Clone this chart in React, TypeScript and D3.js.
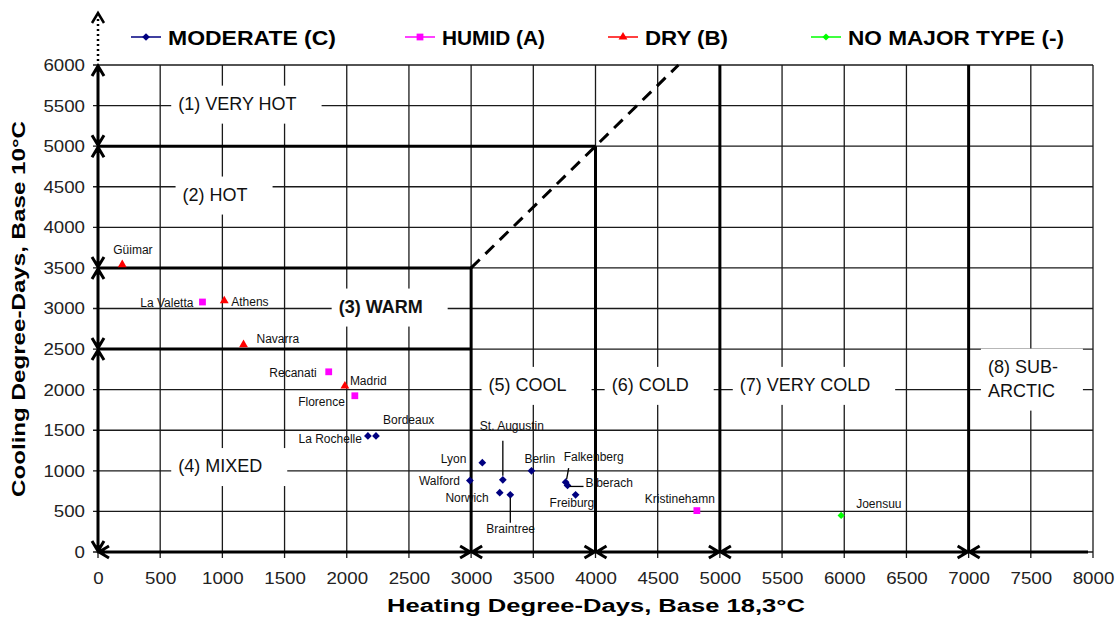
import React, { useRef, useEffect } from 'react';
import * as d3 from 'd3';

// tick labels
const xTicks = [0, 500, 1000, 1500, 2000, 2500, 3000, 3500, 4000, 4500, 5000, 5500, 6000, 6500, 7000, 7500, 8000];
const yTicks = [0, 500, 1000, 1500, 2000, 2500, 3000, 3500, 4000, 4500, 5000, 5500, 6000];

// series: [name, heating DD, cooling DD]
const moderate: [string, number, number][] = [
  ['La Rochelle', 2170, 1430],
  ['Bordeaux', 2235, 1430],
  ['Lyon', 3090, 1100],
  ['Walford', 2990, 880],
  ['St. Augustin', 3255, 890],
  ['Norwich', 3230, 730],
  ['Braintree', 3315, 705],
  ['Berlin', 3485, 1000],
  ['Falkenberg', 3760, 860],
  ['Biberach', 3775, 820],
  ['Freiburg', 3840, 705],
];
const humid: [string, number, number][] = [
  ['La Valetta', 840, 3080],
  ['Recanati', 1855, 2220],
  ['Florence', 2065, 1925],
  ['Kristinehamn', 4815, 510],
];
const dry: [string, number, number][] = [
  ['Güimar', 195, 3540],
  ['Athens', 1015, 3095],
  ['Navarra', 1170, 2555],
  ['Madrid', 1985, 2045],
];
const noMajor: [string, number, number][] = [
  ['Joensuu', 5975, 450],
];

// zone borders and labels
const zoneLines = [
  [[0, 5000], [4000, 5000]],
  [[4000, 0], [4000, 5000]],
  [[0, 3500], [3000, 3500]],
  [[3000, 0], [3000, 3500]],
  [[0, 2500], [3000, 2500]],
  [[5000, 0], [5000, 6000]],
  [[7000, 0], [7000, 6000]],
];
const dashedLine = [[3000, 3500], [4667, 6000]];
const leftArrowStops = [0, 2500, 3500, 5000, 6000];
const bottomArrowStops = [0, 3000, 4000, 5000, 7000, 8000];

const zoneLabels: [string[], number, number, boolean][] = [
  [['(1) VERY HOT'], 645, 5450, false],
  [['(2) HOT'], 680, 4330, false],
  [['(3) WARM'], 1935, 2950, true],
  [['(4) MIXED'], 645, 985, false],
  [['(5) COOL'], 3140, 1985, false],
  [['(6) COLD'], 4130, 1985, false],
  [['(7) VERY COLD'], 5160, 1985, false],
  [['(8) SUB-', 'ARCTIC'], 7155, 2210, false],
];

// label placement relative to the marker (px): dx, dy, anchor
const labelPos: Record<string, [number, number, string]> = {
  'Güimar': [-9, -11, 'start'],
  'La Valetta': [-9, 5, 'end'],
  'Athens': [7, 5, 'start'],
  'Navarra': [13, -2, 'start'],
  'Recanati': [-12, 5, 'end'],
  'Madrid': [5, -1, 'start'],
  'Florence': [-10, 10, 'end'],
  'Bordeaux': [7, -12, 'start'],
  'La Rochelle': [-6, 7, 'end'],
  'Lyon': [-16, 0, 'end'],
  'Walford': [-10, 4, 'end'],
  'Norwich': [-11, 9, 'end'],
  'St. Augustin': [-23, -50, 'start'],
  'Braintree': [-24, 38, 'start'],
  'Berlin': [-7, -8, 'start'],
  'Falkenberg': [-2, -21, 'start'],
  'Biberach': [18, 2, 'start'],
  'Freiburg': [-26, 12, 'start'],
  'Kristinehamn': [18, -8, 'end'],
  'Joensuu': [15, -7, 'start'],
};
// leader lines relative to the marker (px)
const leaders: Record<string, number[]> = {
  'St. Augustin': [0, -39, 0, -4],
  'Braintree': [0, 3, 0, 28],
  'Falkenberg': [3, -14, 1, -3],
  'Biberach': [2, 1, 16, 1],
};

const series = [
  { name: 'MODERATE (C)', data: moderate, color: '#000080', shape: 'diamond', lx: 131, tl: 168 },
  { name: 'HUMID (A)', data: humid, color: '#FF00FF', shape: 'square', lx: 405, tl: 103 },
  { name: 'DRY (B)', data: dry, color: '#FF0000', shape: 'triangle', lx: 608, tl: 83 },
  { name: 'NO MAJOR TYPE (-)', data: noMajor, color: '#00FF00', shape: 'dot', lx: 811, tl: 216 },
];

const font = 'Arial, "Liberation Sans", sans-serif';

const markerPath = (shape: string) => {
  if (shape === 'square') return d3.symbol(d3.symbolSquare, 46)();
  if (shape === 'triangle') return d3.symbol(d3.symbolTriangle, 34)();
  if (shape === 'dot') return d3.symbol(d3.symbolSquare, 26)();
  return d3.symbol(d3.symbolSquare, 30)();
};
const markerRot = (shape: string) => (shape === 'diamond' || shape === 'dot' ? 45 : 0);

const ZoneChart = () => {
  const svgRef = useRef<SVGSVGElement>(null);

  useEffect(() => {
    const W = 1120, H = 623;
    const m = { left: 98, right: 27, top: 65, bottom: 71 };
    const pw = W - m.left - m.right;
    const ph = H - m.top - m.bottom;

    const svg = d3.select(svgRef.current);
    svg.selectAll('*').remove();

    const x = d3.scaleLinear().domain([0, 8000]).range([0, pw]);
    const y = d3.scaleLinear().domain([0, 6000]).range([ph, 0]);

    const g = svg.append('g').attr('transform', `translate(${m.left},${m.top})`);

    // grid
    g.selectAll('.vgrid').data(xTicks).join('line')
      .attr('x1', d => x(d)).attr('x2', d => x(d))
      .attr('y1', 0).attr('y2', ph + 6)
      .attr('stroke', '#1a1a1a').attr('stroke-width', 1.3);
    g.selectAll('.hgrid').data(yTicks).join('line')
      .attr('y1', d => y(d)).attr('y2', d => y(d))
      .attr('x1', -5).attr('x2', pw)
      .attr('stroke', '#1a1a1a').attr('stroke-width', 1.3);

    // axes labels (the original is a bit wide, so stretch them)
    const yAxis = d3.axisLeft(y).tickValues(yTicks).tickSize(0).tickPadding(13).tickFormat(d3.format('d'));
    const xAxis = d3.axisBottom(x).tickValues(xTicks).tickSize(0).tickPadding(20).tickFormat(d3.format('d'));
    const ya = g.append('g').call(yAxis);
    const xa = g.append('g').attr('transform', `translate(0,${ph})`).call(xAxis);
    [ya, xa].forEach(a => {
      a.select('.domain').remove();
      a.selectAll<SVGTextElement, number>('text')
        .attr('font-family', font).attr('font-size', 17).attr('fill', '#222')
        .attr('textLength', d => String(d).length * 10.4).attr('lengthAdjust', 'spacingAndGlyphs');
    });

    // zone labels with white boxes
    zoneLabels.forEach(([lines, lx, ly, bold]) => {
      const t = g.append('text')
        .attr('x', x(lx)).attr('y', y(ly))
        .attr('font-family', font).attr('font-size', 18)
        .attr('font-weight', bold ? 'bold' : 'normal').attr('fill', '#111');
      lines.forEach((s, i) => {
        t.append('tspan').attr('x', x(lx)).attr('dy', i === 0 ? 0 : 24).text(s);
      });
      const bb = (t.node() as SVGTextElement).getBBox();
      g.insert('rect', () => t.node())
        .attr('x', bb.x - 7).attr('y', bb.y - 8)
        .attr('width', bb.width + 32).attr('height', bb.height + 18)
        .attr('fill', '#fff');
    });

    // zone borders
    const lineGen = d3.line<number[]>().x(d => x(d[0])).y(d => y(d[1]));
    g.selectAll('.zone').data(zoneLines).join('path')
      .attr('d', d => lineGen(d as number[][]))
      .attr('stroke', '#000').attr('stroke-width', 3).attr('fill', 'none');
    g.append('path').attr('d', lineGen(dashedLine))
      .attr('stroke', '#000').attr('stroke-width', 3).attr('fill', 'none')
      .attr('stroke-dasharray', '12,8');

    // arrows
    const head = (px: number, py: number, dx: number, dy: number) => {
      const L = 10, Wd = 6;
      const bx = px - dx * L, by = py - dy * L;
      return `M${bx + dy * Wd},${by - dx * Wd}L${px},${py}L${bx - dy * Wd},${by + dx * Wd}`;
    };
    let dPath = '';
    for (let i = 0; i < leftArrowStops.length - 1; i++) {
      const y0 = y(leftArrowStops[i]), y1 = y(leftArrowStops[i + 1]);
      dPath += `M0,${y0}L0,${y1}` + head(0, y0 - 1, 0, 1) + head(0, y1 + 1, 0, -1);
    }
    for (let i = 0; i < bottomArrowStops.length - 1; i++) {
      const x0 = x(bottomArrowStops[i]), x1 = x(bottomArrowStops[i + 1]);
      const last = i === bottomArrowStops.length - 2;
      dPath += `M${x0},${ph}L${last ? x1 - 5 : x1},${ph}` + head(x0 + 1, ph, -1, 0) + (last ? '' : head(x1 - 1, ph, 1, 0));
    }
    g.append('path').attr('d', dPath)
      .attr('stroke', '#000').attr('stroke-width', 3).attr('fill', 'none');
    // dotted continuation above the plot
    g.append('path').attr('d', `M0,-4L0,-48`)
      .attr('stroke', '#000').attr('stroke-width', 2.5).attr('stroke-dasharray', '2,3');
    g.append('path').attr('d', head(0, -52, 0, -1))
      .attr('stroke', '#000').attr('stroke-width', 2.5).attr('fill', 'none');

    // points
    series.forEach(s => {
      g.selectAll(null).data(s.data).join('path')
        .attr('d', markerPath(s.shape))
        .attr('transform', d => `translate(${x(d[1])},${y(d[2])}) rotate(${markerRot(s.shape)})`)
        .attr('fill', s.color);
    });

    // point labels and leaders
    const all = [...moderate, ...humid, ...dry, ...noMajor];
    all.forEach(d => {
      const px = x(d[1]), py = y(d[2]);
      const lp = labelPos[d[0]] || [5, -5, 'start'];
      g.append('text').attr('x', px + lp[0]).attr('y', py + lp[1])
        .attr('text-anchor', lp[2]).attr('font-family', font).attr('font-size', 12)
        .attr('fill', '#111').text(d[0]);
      const ld = leaders[d[0]];
      if (ld) {
        g.append('line').attr('x1', px + ld[0]).attr('y1', py + ld[1])
          .attr('x2', px + ld[2]).attr('y2', py + ld[3])
          .attr('stroke', '#000').attr('stroke-width', 1.3);
      }
    });

    // legend
    series.forEach(s => {
      const lg = svg.append('g').attr('transform', `translate(${s.lx},37)`);
      lg.append('line').attr('x1', 0).attr('x2', 30).attr('stroke', s.color).attr('stroke-width', 1.5);
      lg.append('path').attr('d', markerPath(s.shape))
        .attr('transform', `translate(15,0) rotate(${markerRot(s.shape)})`).attr('fill', s.color);
      lg.append('text').attr('x', 37).attr('y', 8)
        .attr('font-family', font).attr('font-size', 21).attr('font-weight', 'bold')
        .attr('textLength', s.tl).attr('lengthAdjust', 'spacingAndGlyphs')
        .attr('fill', '#000').text(s.name);
    });

    // axis titles
    svg.append('text').attr('x', 596).attr('y', 612).attr('text-anchor', 'middle')
      .attr('font-family', font).attr('font-size', 18).attr('font-weight', 'bold')
      .attr('textLength', 418).attr('lengthAdjust', 'spacingAndGlyphs')
      .text('Heating Degree-Days, Base 18,3°C');
    svg.append('text').attr('transform', 'translate(25,309) rotate(-90)').attr('text-anchor', 'middle')
      .attr('font-family', font).attr('font-size', 18).attr('font-weight', 'bold')
      .attr('textLength', 376).attr('lengthAdjust', 'spacingAndGlyphs')
      .text('Cooling Degree-Days, Base 10°C');
  }, []);

  return <svg ref={svgRef} width={1120} height={623} style={{ position: 'absolute', left: 0, top: 0, background: '#fff' }}></svg>;
};

export default function App() {
  return <ZoneChart />;
}
